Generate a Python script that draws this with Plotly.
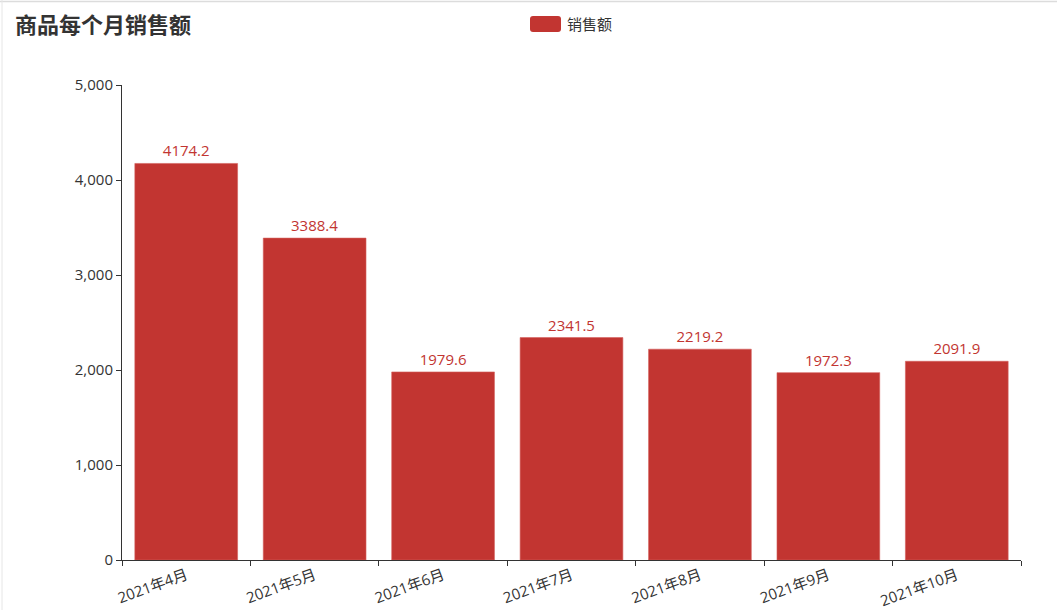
import plotly.graph_objects as go

months = ["2021年4月", "2021年5月", "2021年6月", "2021年7月", "2021年8月", "2021年9月", "2021年10月"]
sales = [4174.2, 3388.4, 1979.6, 2341.5, 2219.2, 1972.3, 2091.9]
y_ticks = [0, 1000, 2000, 3000, 4000, 5000]

W, H = 1057, 610
L, R, T, B = 122, 36, 85, 50
pw, ph = W - L - R, H - T - B

FONT = "Open Sans, Noto Sans CJK SC, sans-serif"
RED = "#c23531"

fig = go.Figure()
fig.add_trace(go.Bar(
    x=months, y=sales, name="销售额",
    marker=dict(color=RED, line=dict(color="#d4605c", width=0.6)),
    text=[f"{v:.1f}" for v in sales], textposition="outside",
    textfont=dict(color=RED, size=15, family=FONT),
    cliponaxis=False, showlegend=False,
))

fig.update_layout(
    width=W, height=H,
    margin=dict(l=L, r=R, t=T, b=B, autoexpand=False),
    paper_bgcolor="white", plot_bgcolor="white",
    font=dict(family=FONT, color="#333"),
    bargap=0.2,
    title=dict(text="<b>商品每个月销售额</b>", x=15 / W, xanchor="left",
               y=1 - 25 / H, yanchor="middle",
               font=dict(size=22, color="#333", family=FONT)),
    xaxis=dict(type="category", showline=True, linecolor="#333", linewidth=1,
               ticks="outside", ticklen=5, tickcolor="#333", tickson="boundaries",
               tickangle=-20, tickfont=dict(size=15, color="#333"),
               showgrid=False, zeroline=False, automargin=False),
    yaxis=dict(range=[0, 5000], tickvals=y_ticks, tickformat=",d",
               showline=True, linecolor="#333", linewidth=1,
               ticks="outside", ticklen=5, tickcolor="#333",
               tickfont=dict(size=15, color="#333"),
               showgrid=False, zeroline=False, automargin=False),
    bargroupgap=0,
)

# legend item (ECharts style) drawn in paper coords
def px(x):
    return (x - L) / pw

def py(y):
    return (H - B - y) / ph

fig.add_shape(type="path", xref="paper", yref="paper",
              path=f"M {px(533)},{py(16)} L {px(558)},{py(16)} Q {px(561)},{py(16)} {px(561)},{py(19)} "
                   f"L {px(561)},{py(29)} Q {px(561)},{py(32)} {px(558)},{py(32)} L {px(533)},{py(32)} "
                   f"Q {px(530)},{py(32)} {px(530)},{py(29)} L {px(530)},{py(19)} Q {px(530)},{py(16)} {px(533)},{py(16)} Z",
              fillcolor=RED, line=dict(width=0))
fig.add_annotation(xref="paper", yref="paper", x=px(565), y=py(24), xanchor="left", yanchor="middle",
                   text="销售额", showarrow=False, font=dict(size=15, color="#333", family=FONT))

# page border lines
fig.add_shape(type="line", xref="paper", yref="paper", x0=px(0), x1=px(W), y0=py(1.5), y1=py(1.5),
              line=dict(color="#dcdcdc", width=1.5))
fig.add_shape(type="line", xref="paper", yref="paper", x0=px(2), x1=px(2), y0=py(0), y1=py(H),
              line=dict(color="#e6e6e6", width=1))

fig.write_html("out.html", config={"displayModeBar": False},
               post_script="document.body.style.margin='0';document.body.style.overflow='hidden';")
